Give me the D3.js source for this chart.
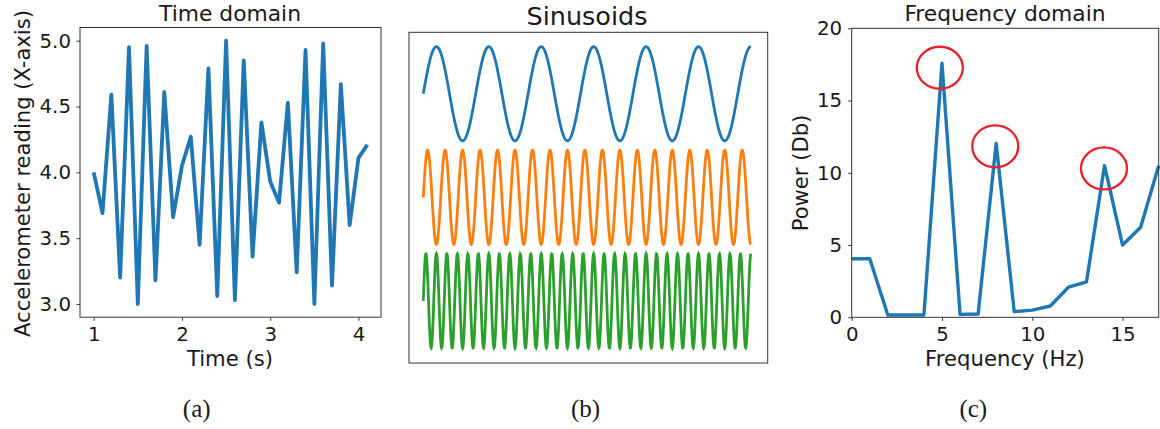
<!DOCTYPE html>
<html>
<head>
<meta charset="utf-8">
<script src="https://cdn.jsdelivr.net/npm/d3@7"></script>
<style>
  body { margin: 0; background: #fff; }
  svg { display: block; }
  text { font-family: "DejaVu Sans", sans-serif; fill: #1a1a1a; }
  .cap { font-family: "Liberation Serif", "Times New Roman", serif; }
</style>
</head>
<body>
<div id="chart"></div>
<script>
// (a) time domain samples
var timeSec = [1.0, 1.1, 1.2, 1.3, 1.4, 1.5, 1.6, 1.7, 1.8, 1.9, 2.0, 2.1, 2.2, 2.3, 2.4, 2.5,
               2.6, 2.7, 2.8, 2.9, 3.0, 3.1, 3.2, 3.3, 3.4, 3.5, 3.6, 3.7, 3.8, 3.9, 4.0, 4.1];
var accelX  = [4.00, 3.69, 4.59, 3.20, 4.95, 3.00, 4.96, 3.18, 4.61, 3.66, 4.05, 4.27, 3.45, 4.79, 3.06, 5.00,
               3.03, 4.85, 3.36, 4.38, 3.93, 3.77, 4.53, 3.24, 4.93, 3.00, 4.98, 3.14, 4.67, 3.60, 4.11, 4.21];
var timeTicks  = [1, 2, 3, 4];
var accelTicks = [3.0, 3.5, 4.0, 4.5, 5.0];

// (b) sinusoid components
var sineFreqs   = [5, 15, 25];      // Hz
var sineOffsets = [0, -2.2, -4.4];
var sineColors  = ["#1f77b4", "#ff7f0e", "#2ca02c"];
var sineSpan    = [0, 1.25];        // seconds

// (c) frequency domain
var freqHz  = [0, 1, 2, 3, 4, 5, 6, 7, 8, 9, 10, 11, 12, 13, 14, 15, 16, 17];
var powerDb = [4.05, 4.05, 0.16, 0.16, 0.16, 17.58, 0.2, 0.23, 12.04, 0.39, 0.5, 0.78, 2.08, 2.45, 10.5, 5.0, 6.23, 10.49];
var freqTicks  = [0, 5, 10, 15];
var powerTicks = [0, 5, 10, 15, 20];
var peakMarks  = [{f: 4.88, p: 17.27}, {f: 7.95, p: 11.83}, {f: 13.97, p: 10.3}];

var W = 1160, H = 429;
var blue = "#1f77b4";
var tickFont = 19.8;

var svg = d3.select("#chart").append("svg")
    .attr("width", W)
    .attr("height", H);

svg.append("rect").attr("width", W).attr("height", H).attr("fill", "#fff");

function frame(g, x0, x1, y0, y1) {
  g.append("rect")
    .attr("x", x0).attr("y", y0)
    .attr("width", x1 - x0).attr("height", y1 - y0)
    .attr("fill", "none")
    .attr("stroke", "#333")
    .attr("stroke-width", 1);
}

function styleAxis(sel, fs) {
  sel.select(".domain").remove();
  sel.selectAll(".tick line").attr("stroke", "#333");
  sel.selectAll(".tick text")
    .attr("fill", "#1a1a1a")
    .style("font-family", "'DejaVu Sans', sans-serif")
    .style("font-size", fs + "px");
}

/* ---------- (a) Time domain ---------- */
var xa = d3.scaleLinear().domain([0.845, 4.255]).range([80, 381]),
    ya = d3.scaleLinear().domain([2.9, 5.1]).range([317.2, 27.5]);

var ga = svg.append("g");

ga.append("path")
  .datum(timeSec.map(function(t, i) { return [t, accelX[i]]; }))
  .attr("fill", "none")
  .attr("stroke", blue)
  .attr("stroke-width", 3.8)
  .attr("stroke-linejoin", "round")
  .attr("d", d3.line().x(function(d) { return xa(d[0]); }).y(function(d) { return ya(d[1]); }));

frame(ga, 80, 381, 27.5, 317.2);

ga.append("g")
  .attr("transform", "translate(0,317.2)")
  .call(d3.axisBottom(xa).tickValues(timeTicks).tickSize(3.5).tickPadding(6.5).tickFormat(d3.format("d")))
  .call(styleAxis, tickFont);

ga.append("g")
  .attr("transform", "translate(80,0)")
  .call(d3.axisLeft(ya).tickValues(accelTicks).tickSize(3.5).tickPadding(5.5).tickFormat(d3.format(".1f")))
  .call(styleAxis, tickFont);

ga.append("text")
  .attr("x", 230).attr("y", 21)
  .attr("text-anchor", "middle")
  .style("font-size", "21.8px")
  .text("Time domain");

ga.append("text")
  .attr("x", 230).attr("y", 366)
  .attr("text-anchor", "middle")
  .style("font-size", "21.2px")
  .text("Time (s)");

ga.append("text")
  .attr("transform", "translate(29.5,173.5) rotate(-90)")
  .attr("text-anchor", "middle")
  .style("font-size", "21.1px")
  .text("Accelerometer reading (X-axis)");

/* ---------- (b) Sinusoids ---------- */
var xb = d3.scaleLinear().domain([-0.0545, 1.314]).range([409, 767.7]),
    yb = d3.scaleLinear().domain([-5.72, 1.305]).range([363, 32.3]);

var gb = svg.append("g");
var samples = d3.range(0, 1201).map(function(i) { return sineSpan[0] + (sineSpan[1] - sineSpan[0]) * i / 1200; });

sineFreqs.forEach(function(f, k) {
  gb.append("path")
    .datum(samples)
    .attr("fill", "none")
    .attr("stroke", sineColors[k])
    .attr("stroke-width", 2.8)
    .attr("d", d3.line()
      .x(function(t) { return xb(t); })
      .y(function(t) { return yb(Math.sin(2 * Math.PI * f * t) + sineOffsets[k]); }));
});

frame(gb, 409, 767.7, 32.3, 363);

gb.append("text")
  .attr("x", 587).attr("y", 25)
  .attr("text-anchor", "middle")
  .style("font-size", "25.5px")
  .text("Sinusoids");

/* ---------- (c) Frequency domain ---------- */
var xc = d3.scaleLinear().domain([0, 17]).range([851.7, 1158.7]),
    yc = d3.scaleLinear().domain([0, 20]).range([317.3, 28.3]);

var gc = svg.append("g");

gc.append("path")
  .datum(freqHz.map(function(f, i) { return [f, powerDb[i]]; }))
  .attr("fill", "none")
  .attr("stroke", blue)
  .attr("stroke-width", 3.4)
  .attr("stroke-linejoin", "round")
  .attr("d", d3.line().x(function(d) { return xc(d[0]); }).y(function(d) { return yc(d[1]); }));

gc.selectAll(".peak")
  .data(peakMarks)
  .enter().append("ellipse")
    .attr("class", "peak")
    .attr("cx", function(d) { return xc(d.f); })
    .attr("cy", function(d) { return yc(d.p); })
    .attr("rx", 23)
    .attr("ry", 21)
    .attr("fill", "none")
    .attr("stroke", "#e8202a")
    .attr("stroke-width", 2.3);

frame(gc, 851.7, 1158.7, 28.3, 317.3);

gc.append("g")
  .attr("transform", "translate(0,317.3)")
  .call(d3.axisBottom(xc).tickValues(freqTicks).tickSize(3.5).tickPadding(6.5).tickFormat(d3.format("d")))
  .call(styleAxis, tickFont);

gc.append("g")
  .attr("transform", "translate(851.7,0)")
  .call(d3.axisLeft(yc).tickValues(powerTicks).tickSize(3.5).tickPadding(6).tickFormat(d3.format("d")))
  .call(styleAxis, tickFont);

gc.append("text")
  .attr("x", 1005).attr("y", 21)
  .attr("text-anchor", "middle")
  .style("font-size", "21.8px")
  .text("Frequency domain");

gc.append("text")
  .attr("x", 1005).attr("y", 366)
  .attr("text-anchor", "middle")
  .style("font-size", "21.2px")
  .text("Frequency (Hz)");

gc.append("text")
  .attr("transform", "translate(807.5,173) rotate(-90)")
  .attr("text-anchor", "middle")
  .style("font-size", "21.1px")
  .text("Power (Db)");

/* ---------- captions ---------- */
var caps = [{t: "(a)", x: 196.7}, {t: "(b)", x: 585.5}, {t: "(c)", x: 973.3}];
svg.selectAll(".cap")
  .data(caps)
  .enter().append("text")
    .attr("class", "cap")
    .attr("x", function(d) { return d.x; })
    .attr("y", 417)
    .attr("text-anchor", "middle")
    .style("font-size", "25px")
    .text(function(d) { return d.t; });
</script>
</body>
</html>
